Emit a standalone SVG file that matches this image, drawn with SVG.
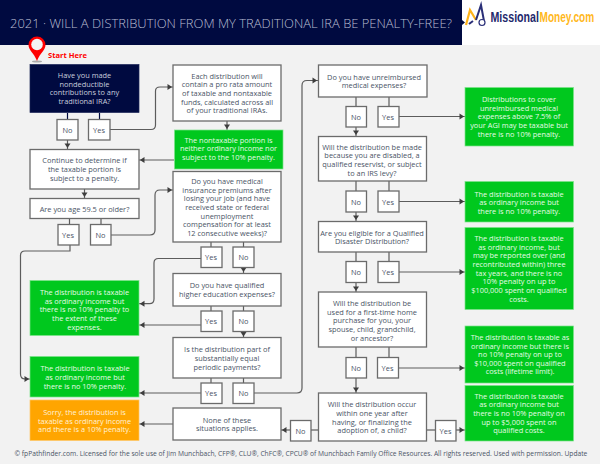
<svg xmlns="http://www.w3.org/2000/svg" width="600" height="464" viewBox="0 0 600 464">
<style>
text{font-family:"Open Sans","Noto Sans","Liberation Sans",sans-serif;font-size:7.400px;text-anchor:middle}
.b{fill:#fff;stroke:#6b6b6b;stroke-width:1.3}
.g{fill:#00c81e;stroke:#7de38a;stroke-width:.7}
.o{fill:#ffa500;stroke:#ffc766;stroke-width:.7}
.n{fill:#000a40;stroke:#1c2557;stroke-width:.7}
.t{fill:#4a5466}
.w{fill:#e6fbe6}
.l{fill:#c9cddd}
.c{fill:none;stroke:#5c5c5c;stroke-width:1.2}
.a{marker-end:url(#ar)}
.lg{font-family:"Liberation Sans",sans-serif;font-size:14px;font-weight:700;text-anchor:start}
</style>
<defs>
<marker id="ar" markerUnits="userSpaceOnUse" markerWidth="10" markerHeight="10" refX="6.5" refY="5" orient="auto">
<path d="M1 2 L5.600 5 L1 8Z" fill="#3e3e3e"/>
<path d="M6.400 2 L9 5 L6.400 8" fill="none" stroke="#fff" stroke-width="1"/>
</marker>
</defs>
<rect width="600" height="464" fill="#f2f2f2"/>
<g id="header">
<rect width="462" height="45" fill="#000a40"/>
<rect x="462" width="138" height="45" fill="#fff"/>
<path d="M462 20 L465 22.500 L462 25Z" fill="#000a40"/>
<text x="231" y="27.500" style="font-size:13.300px;font-weight:300" fill="#b9bdd2" textLength="442" lengthAdjust="spacingAndGlyphs">2021 · WILL A DISTRIBUTION FROM MY TRADITIONAL IRA BE PENALTY-FREE?</text>
</g>
<g id="logo">
<path d="M466 25 L470 10 L476 20" fill="none" stroke="#ffb31a" stroke-width="2.200"/>
<path d="M469 24 L473 21 M476 20 L481 5 L484 21" fill="none" stroke="#2a2f78" stroke-width="2"/>
<circle cx="482" cy="22.500" r="3" fill="#fff" stroke="#2a2f78" stroke-width="1.200"/>
<text class="lg" transform="translate(490.500 22) scale(.76 1.050)" fill="#23286b">Missional</text>
<text class="lg" transform="translate(539.500 22) scale(.72 1.050)" fill="#ffb81c">Money.com</text>
</g>
<g id="start-pin">
<ellipse cx="37" cy="61.500" rx="5" ry="1" fill="#aaa"/>
<path d="M37 61 C34 53 28.500 50 28.500 45 A8.500 8.500 0 0 1 45.500 45 C45.500 50 40 53 37 61Z" fill="#f00"/>
<circle cx="37" cy="44.500" r="5.800" fill="#f4f4f4"/>
<text x="48" y="58" style="font-size:7.600px;font-weight:700;text-anchor:start" fill="#f00">Start Here</text>
</g>
<g id="connectors">
<path class="c" style="stroke:#000a40" d="M67.500 113V119M99.500 113V119"/>
<path class="c a" d="M67.500 140V149"/>
<path class="c a" d="M110 129.500H151Q155.500 129.500 155.500 125V91Q155.500 87 160 87H173"/>
<path class="c a" d="M227 121V130"/>
<path class="c a" d="M174 160H139"/>
<path class="c a" d="M84.500 189V198"/>
<path class="c" d="M69.500 218V224M101 218V224"/>
<path class="c a" d="M111 235H150Q155 235 155 230V195Q155 190 160 190H173"/>
<path class="c a" d="M70 245V251H25Q20.500 251 20.500 255.500V374Q20.500 379 25 379H30"/>
<path class="c" d="M211 242V247M243.500 242V247"/>
<path class="c a" d="M201 258.500H158.500Q154 258.500 154 263V299Q154 303.700 149.500 303.700H139"/>
<path class="c a" d="M243.500 267.500V273"/>
<path class="c" d="M211 306V311M243.500 306V311"/>
<path class="c a" d="M201 325H139"/>
<path class="c a" d="M243.500 332V337.500"/>
<path class="c" d="M211 378V383M243.500 378V383"/>
<path class="c a" d="M201 393H139"/>
<path class="c a" d="M254 393H297Q302 393 302 388V85.500Q302 80.500 307 80.500H318"/>
<path class="c a" d="M173 424H139"/>
<path class="c a" d="M290 430H281"/>
<path class="c" d="M318 430H311"/>
<path class="c" d="M427 430H435"/>
<path class="c a" d="M456 430H465"/>
<path class="c" d="M356 97V106M389 97V106"/>
<path class="c a" d="M356 127V136"/>
<path class="c a" d="M399 116.500H465"/>
<path class="c" d="M356 181V191M389 181V191"/>
<path class="c a" d="M356 212V221"/>
<path class="c a" d="M399 201.500H465"/>
<path class="c" d="M356 252V261.500M389 252V261.500"/>
<path class="c a" d="M356 282.500V292"/>
<path class="c a" d="M399 272H465"/>
<path class="c" d="M356 347V357M389 347V357"/>
<path class="c a" d="M356 378V393"/>
<path class="c a" d="M399 368H465"/>
</g>
<g id="n-start"><rect class="n" x="30" y="64.500" width="109" height="48"/><text class="l"><tspan x="84.500" y="78">Have you made</tspan><tspan x="84.500" y="86.700">nondeductible</tspan><tspan x="84.500" y="95.400">contributions to any</tspan><tspan x="84.500" y="104.100">traditional IRA?</tspan></text></g>
<g id="n-start-no"><rect class="b" x="57" y="119.500" width="21" height="20.500"/><text class="t" x="67.500" y="132.800">No</text></g>
<g id="n-start-yes"><rect class="b" x="88.500" y="119.500" width="21.500" height="20.500"/><text class="t" x="99" y="132.800">Yes</text></g>
<g id="n-prorata"><rect class="b" x="173" y="65" width="108" height="56"/><text class="t"><tspan x="227" y="78.700">Each distribution will</tspan><tspan x="227" y="87.300">contain a pro rata amount</tspan><tspan x="227" y="95.900">of taxable and nontaxable</tspan><tspan x="227" y="104.500">funds, calculated across all</tspan><tspan x="227" y="113.100">of your traditional IRAs.</tspan></text></g>
<g id="n-nontaxable"><rect class="g" x="174.500" y="130" width="108.500" height="39"/><text class="w"><tspan x="228.500" y="142.500">The nontaxable portion is</tspan><tspan x="228.500" y="151.400">neither ordinary income nor</tspan><tspan x="228.500" y="160.300">subject to the 10% penalty.</tspan></text></g>
<g id="n-continue"><rect class="b" x="30" y="149.500" width="109" height="39.500"/><text class="t"><tspan x="84.500" y="163">Continue to determine if</tspan><tspan x="84.500" y="171.800">the taxable portion is</tspan><tspan x="84.500" y="180.700">subject to a penalty.</tspan></text></g>
<g id="n-age"><rect class="b" x="30" y="198.500" width="109" height="20"/><text class="t" x="84.500" y="211.600">Are you age 59.5 or older?</text></g>
<g id="n-age-yes"><rect class="b" x="58" y="224.500" width="21" height="20.500"/><text class="t" x="68" y="237.600">Yes</text></g>
<g id="n-age-no"><rect class="b" x="90.500" y="224.500" width="20.500" height="20.500"/><text class="t" x="100.500" y="237.600">No</text></g>
<g id="n-insurance"><rect class="b" x="173" y="171.500" width="108" height="70.500"/><text class="t"><tspan x="227" y="184">Do you have medical</tspan><tspan x="227" y="192.700">insurance premiums after</tspan><tspan x="227" y="201.400">losing your job (and have</tspan><tspan x="227" y="210.100">received state or federal</tspan><tspan x="227" y="218.800">unemployment</tspan><tspan x="227" y="227.400">compensation for at least</tspan><tspan x="227" y="236">12 consecutive weeks)?</tspan></text></g>
<g id="n-ins-yes"><rect class="b" x="201" y="247" width="21" height="20.500"/><text class="t" x="211" y="260">Yes</text></g>
<g id="n-ins-no"><rect class="b" x="233" y="247" width="21" height="20.500"/><text class="t" x="243.500" y="260">No</text></g>
<g id="n-higher"><rect class="b" x="173" y="273.500" width="108" height="32.500"/><text class="t"><tspan x="227" y="288.200">Do you have qualified</tspan><tspan x="227" y="296.800">higher education expenses?</tspan></text></g>
<g id="n-high-yes"><rect class="b" x="201" y="311" width="21" height="20.500"/><text class="t" x="211" y="324">Yes</text></g>
<g id="n-high-no"><rect class="b" x="233" y="311" width="21" height="20.500"/><text class="t" x="243.500" y="324">No</text></g>
<g id="n-equal"><rect class="b" x="173" y="337.500" width="108" height="40.500"/><text class="t"><tspan x="227" y="352.200">Is the distribution part of</tspan><tspan x="227" y="361">substantially equal</tspan><tspan x="227" y="369.800">periodic payments?</tspan></text></g>
<g id="n-eq-yes"><rect class="b" x="201" y="383" width="21" height="20.500"/><text class="t" x="211" y="396">Yes</text></g>
<g id="n-eq-no"><rect class="b" x="233" y="383" width="21" height="20.500"/><text class="t" x="243.500" y="396">No</text></g>
<g id="n-none"><rect class="b" x="173" y="408" width="108" height="32"/><text class="t"><tspan x="227" y="422.500">None of these</tspan><tspan x="227" y="431">situations applies.</tspan></text></g>
<g id="n-result-extent"><rect class="g" x="30" y="280.500" width="109" height="55"/><text class="w"><tspan x="84.500" y="295">The distribution is taxable</tspan><tspan x="84.500" y="303.600">as ordinary income but</tspan><tspan x="84.500" y="312.200">there is no 10% penalty to</tspan><tspan x="84.500" y="320.900">the extent of these</tspan><tspan x="84.500" y="329.500">expenses.</tspan></text></g>
<g id="n-result-nopenalty"><rect class="g" x="30" y="356.500" width="109" height="40.500"/><text class="w"><tspan x="85" y="371.300">The distribution is taxable</tspan><tspan x="85" y="380.200">as ordinary income but</tspan><tspan x="85" y="389">there is no 10% penalty.</tspan></text></g>
<g id="n-result-penalty"><rect class="o" x="30" y="400" width="109" height="40.500"/><text class="w" style="fill:#fff2d9"><tspan x="84.500" y="414.700">Sorry, the distribution is</tspan><tspan x="84.500" y="423.500">taxable as ordinary income</tspan><tspan x="84.500" y="432.200">and there is a 10% penalty.</tspan></text></g>
<g id="n-medical"><rect class="b" x="318.500" y="65" width="108.500" height="32"/><text class="t"><tspan x="374" y="79.500">Do you have unreimbursed</tspan><tspan x="374" y="88">medical expenses?</tspan></text></g>
<g id="n-med-no"><rect class="b" x="346" y="106.500" width="20.500" height="20.500"/><text class="t" x="356" y="119.500">No</text></g>
<g id="n-med-yes"><rect class="b" x="378" y="106.500" width="21" height="20.500"/><text class="t" x="388" y="119.500">Yes</text></g>
<g id="n-disabled"><rect class="b" x="318.500" y="136.500" width="108" height="44.500"/><text class="t"><tspan x="372" y="149.500">Will the distribution be made</tspan><tspan x="372" y="158.300">because you are disabled, a</tspan><tspan x="372" y="167">qualified reservist, or subject</tspan><tspan x="372" y="175.700">to an IRS levy?</tspan></text></g>
<g id="n-dis-no"><rect class="b" x="346" y="191" width="20.500" height="21"/><text class="t" x="356" y="204.500">No</text></g>
<g id="n-dis-yes"><rect class="b" x="378" y="191" width="21" height="21"/><text class="t" x="388" y="204.500">Yes</text></g>
<g id="n-disaster"><rect class="b" x="318.500" y="221.500" width="108" height="30.500"/><text class="t"><tspan x="372" y="235.500">Are you eligible for a Qualified</tspan><tspan x="372" y="244.300">Disaster Distribution?</tspan></text></g>
<g id="n-das-no"><rect class="b" x="346" y="261.500" width="20.500" height="21"/><text class="t" x="356" y="274.800">No</text></g>
<g id="n-das-yes"><rect class="b" x="378" y="261.500" width="21" height="21"/><text class="t" x="388" y="274.800">Yes</text></g>
<g id="n-home"><rect class="b" x="318.500" y="292" width="108" height="55"/><text class="t"><tspan x="372" y="305.800">Will the distribution be</tspan><tspan x="372" y="314.500">used for a first-time home</tspan><tspan x="372" y="323.200">purchase for you, your</tspan><tspan x="372" y="332">spouse, child, grandchild,</tspan><tspan x="372" y="340.800">or ancestor?</tspan></text></g>
<g id="n-home-no"><rect class="b" x="346" y="357.500" width="20.500" height="20.500"/><text class="t" x="356" y="370.800">No</text></g>
<g id="n-home-yes"><rect class="b" x="377.500" y="357.500" width="21" height="20.500"/><text class="t" x="387.500" y="370.800">Yes</text></g>
<g id="n-adopt"><rect class="b" x="318.500" y="393" width="108" height="48"/><text class="t"><tspan x="372" y="407.200">Will the distribution occur</tspan><tspan x="372" y="415.900">within one year after</tspan><tspan x="372" y="424.600">having, or finalizing the</tspan><tspan x="372" y="433.300">adoption of, a child?</tspan></text></g>
<g id="n-adopt-no"><rect class="b" x="290.500" y="420.500" width="20.500" height="20.500"/><text class="t" x="300.500" y="433.800">No</text></g>
<g id="n-adopt-yes"><rect class="b" x="435.500" y="420.500" width="20.500" height="20.500"/><text class="t" x="445.500" y="433.800">Yes</text></g>
<g id="n-r-medical"><rect class="g" x="465" y="87.500" width="108.500" height="58.500"/><text class="w"><tspan x="519" y="102">Distributions to cover</tspan><tspan x="519" y="110.600">unreimbursed medical</tspan><tspan x="519" y="119.200">expenses above 7.5% of</tspan><tspan x="519" y="127.900">your AGI may be taxable but</tspan><tspan x="519" y="136.500">there is no 10% penalty.</tspan></text></g>
<g id="n-r-disabled"><rect class="g" x="465" y="181.500" width="108.500" height="40.500"/><text class="w"><tspan x="519" y="196.500">The distribution is taxable</tspan><tspan x="519" y="205">as ordinary income but</tspan><tspan x="519" y="213.500">there is no 10% penalty.</tspan></text></g>
<g id="n-r-disaster"><rect class="g" x="465" y="227.500" width="108.500" height="82"/><text class="w"><tspan x="519" y="241">The distribution is taxable</tspan><tspan x="519" y="249.700">as ordinary income, but</tspan><tspan x="519" y="258.400">may be reported over (and</tspan><tspan x="519" y="267">recontributed within) three</tspan><tspan x="519" y="275.700">tax years, and there is no</tspan><tspan x="519" y="284.300">10% penalty on up to</tspan><tspan x="519" y="292.900">$100,000 spent on qualified</tspan><tspan x="519" y="301.500">costs.</tspan></text></g>
<g id="n-r-home"><rect class="g" x="465" y="326" width="108.500" height="57"/><text class="w"><tspan x="520" y="340">The distribution is taxable as</tspan><tspan x="520" y="348.500">ordinary income but there is</tspan><tspan x="520" y="357">no 10% penalty on up to</tspan><tspan x="520" y="365.500">$10,000 spent on qualified</tspan><tspan x="520" y="374">costs (lifetime limit).</tspan></text></g>
<g id="n-r-adopt"><rect class="g" x="465" y="385.500" width="108.500" height="55.500"/><text class="w"><tspan x="519" y="398.700">The distribution is taxable</tspan><tspan x="519" y="407.300">as ordinary income but</tspan><tspan x="519" y="415.800">there is no 10% penalty on</tspan><tspan x="519" y="424.500">up to $5,000 spent on</tspan><tspan x="519" y="433">qualified costs.</tspan></text></g>
<text x="14.500" y="455.700" style="font-size:6.700px;text-anchor:start" fill="#4a5466">© fpPathfinder.com. Licensed for the sole use of Jim Munchbach, CFP®, CLU®, ChFC®, CPCU® of Munchbach Family Office Resources. All rights reserved. Used with permission. Update</text>
</svg>
